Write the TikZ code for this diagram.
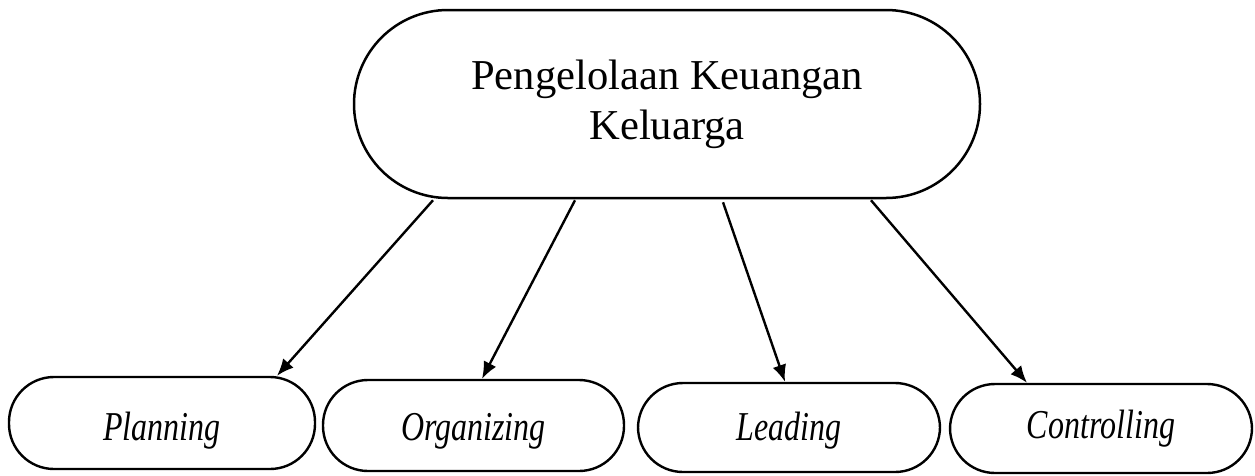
\documentclass[tikz,border=0pt]{standalone}
\usepackage{fontspec}
\setmainfont{Liberation Serif}
\usetikzlibrary{arrows.meta}
\tikzset{
  topbox/.style={draw, line width=2.5pt, rounded corners=94pt, minimum width=626pt, minimum height=188pt, inner sep=0pt, align=center, font=\fontsize{42.6}{50}\selectfont},
  subbox/.style={draw, line width=2.4pt, rounded corners=45pt, minimum width=302pt, minimum height=90pt, inner sep=0pt, font=\fontsize{41}{48}\selectfont\itshape},
  conn/.style={line width=2.4pt, -{Latex[length=17pt,width=14pt]}}
}
\newcommand{\subtext}[2]{\smash{\raisebox{-#1pt}{\scalebox{0.78}[1]{#2}}}}
\begin{document}
\begin{tikzpicture}[x=1pt,y=-1pt]
\useasboundingbox (0,0) rectangle (1255,475);
\node[topbox] (top) at (667,104) {Pengelolaan Keuangan\\Keluarga};
\node[subbox, minimum width=306pt, minimum height=92pt] (plan) at (162,423) {\subtext{17}{Planning}};
\node[subbox, minimum width=301pt, minimum height=91pt] (org) at (473.5,425.5) {\subtext{15}{Organizing}};
\node[subbox, minimum width=302pt, minimum height=89pt] (lead) at (789,427.5) {\subtext{13}{Leading}};
\node[subbox, minimum width=302pt, minimum height=89pt] (ctrl) at (1101,428.5) {\subtext{10}{Controlling}};
\draw[conn] ([xshift=-234pt,yshift=-1pt]top.south) -- ([xshift=115pt]plan.north);
\draw[conn] ([xshift=-92pt,yshift=-1pt]top.south) -- ([xshift=8.5pt]org.north);
\draw[conn] ([xshift=56pt,yshift=-3pt]top.south) -- ([xshift=-4pt]lead.north);
\draw[conn] ([xshift=204pt,yshift=-1pt]top.south) -- ([xshift=-74pt]ctrl.north);
\end{tikzpicture}
\end{document}
